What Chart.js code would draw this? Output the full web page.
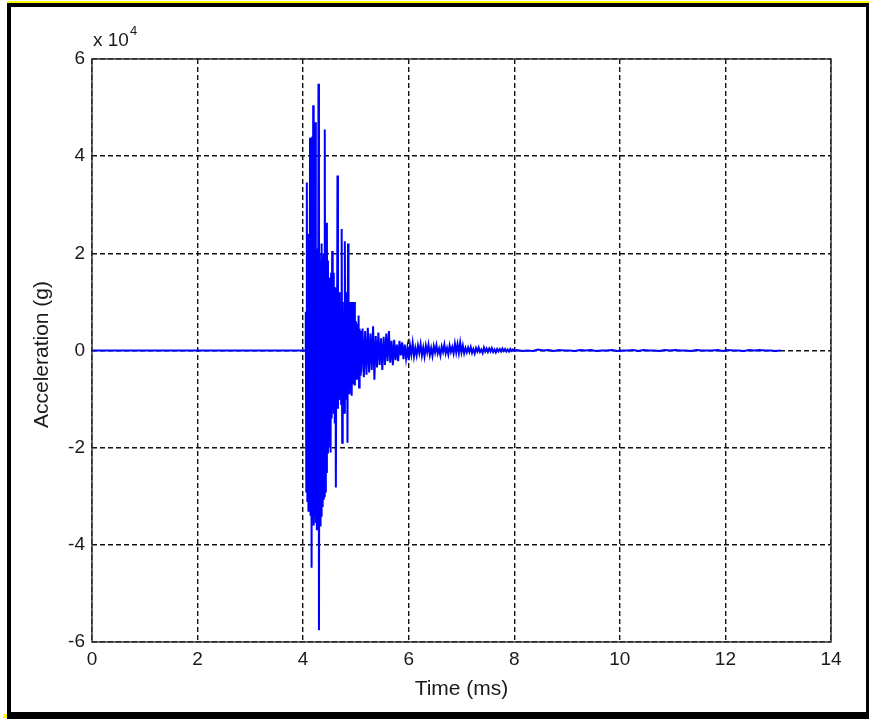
<!DOCTYPE html>
<html>
<head>
<meta charset="utf-8">
<title>Acceleration vs Time</title>
<script src="https://cdn.jsdelivr.net/npm/chart.js@4.4.1/dist/chart.umd.min.js"></script>
<style>
    body { margin: 0; background: #fff; }
    #wrap { position: relative; width: 869px; height: 719px; overflow: hidden; }
    #accelChart { position: absolute; left: 0; top: 0; }
    .frame { position: absolute; left: 7px; top: 3px; right: 0; bottom: 0;
             border-style: solid; border-color: #000; border-width: 4px 3px 7px 4px; pointer-events: none; }
    .topline { position: absolute; left: 7px; top: 1px; right: 0; height: 2px; background: #ffff00; }
    .corner { position: absolute; left: 3px; top: 714px; width: 4px; height: 4px; background: #ffff00; }
</style>
</head>
<body>
<div id="wrap">
    <canvas id="accelChart" width="869" height="719"></canvas>
    <div class="topline"></div>
    <div class="frame"></div>
    <div class="corner"></div>
</div>
<script>
// Values, acceleration in units of 10^4 g

// Quiet part before impact
const quietTime = [0, 4.04];
const quietAccel = [0, 0];

// Impact burst, one sample every 0.01 ms from 4.05 ms
const burstStart = 4.05;
const burstStep = 0.01;
const burstAccel = [
    0.8, -2.9, 3.46, -3.1, 2.1, -3.3, 2.4, -3.0, 4.38, -3.4,
    4.2, -4.47, 4.4, -3.5, 5.05, -3.6, 4.4, -3.4, 4.7, -3.55,
    1.9, -3.7, 2.1, -3.5, 5.49, -5.76, 2.0, -3.6, 1.85, -3.4,
    2.2, -3.2, 1.9, -3.05, 2.0, -3.0, 4.55, -2.9, 1.8, -2.5,
    2.63, -2.1, 1.85, -2.0, 1.5, -0.93, 1.1, -2.1, 1.6, -1.4,
    2.05, -1.2, 1.6, -1.3, 1.2, -1.5, 1.3, -2.82, 1.2, -1.1,
    3.6, -1.2, 1.0, -0.9, 1.2, -1.0, 0.9, -1.1, 2.5, -1.9,
    1.0, -0.9, 0.8, -1.28, 2.25, -0.8, 1.2, -1.0, 0.9, -1.9,
    2.2, -0.8, 0.7, -0.9, 1.0, -0.7, 0.8, -0.93, 1.0, -0.6,
    0.7, -0.7, 1.0, -0.72, 0.6, -0.5, 0.55, -0.6, 0.5, -0.45,
    0.72, -0.76, 0.45, -0.5, 0.4, -0.45
];

// Decay, one sample every 0.025 ms from 5.125 ms
const decayStart = 5.125;
const decayStep = 0.025;
const decayAccel = [
    0.45, -0.55, 0.4, -0.5, 0.47, -0.45, 0.35, -0.4,
    0.5, -0.6, 0.3, -0.35, 0.37, -0.3, 0.25, -0.4,
    0.28, -0.3, 0.35, -0.22, 0.4, -0.25, 0.2, -0.3,
    0.22, -0.2, 0.12, -0.22, 0.2, -0.1, 0.17, -0.18,
    0.12, -0.16, 0.06, -0.2, 0.1, -0.08, 0.15, -0.12,
    0.05, -0.1, 0.1, -0.05, 0.13, -0.1, 0.06, -0.12,
    0.1, -0.04, 0.12, -0.09, 0.05, -0.11, 0.09, -0.04,
    0.11, -0.06, 0.04, -0.1, 0.08, -0.03, 0.12, -0.06,
    0.05, -0.08, 0.1, -0.03, 0.07, -0.06, 0.14, -0.04,
    0.13, -0.05, 0.16, -0.04, 0.1, -0.06, 0.05, -0.04,
    0.06, -0.03, 0.07, -0.05, 0.03, -0.06, 0.05, -0.02,
    0.06, -0.03, 0.02, -0.05, 0.06, -0.02, 0.04, -0.03,
    0.04, -0.02, 0.05, -0.03, 0.02, -0.04, 0.03, -0.02,
    0.03, -0.02, 0.04, -0.01, 0.03, -0.02, 0.02, -0.02,
    0.03, -0.01, 0.02, -0.01
];

// Residual tail, one sample every 0.1 ms from 8.05 ms
const tailStart = 8.05;
const tailStep = 0.1;
const tailAccel = [
    0.01, -0.01, 0.0, -0.01, 0.02, 0.0, 0.01, -0.01, 0.01, 0.0,
    0.0, -0.01, 0.01, 0.0, 0.01, -0.01, 0.0, 0.0, 0.01, -0.01,
    0.0, 0.0, 0.01, -0.01, 0.01, 0.0, 0.0, -0.01, 0.01, 0.0,
    0.01, 0.0, 0.0, -0.01, 0.01, 0.0, 0.0, 0.0, 0.01, -0.01,
    0.01, 0.0, 0.0, -0.01, 0.01, 0.0, 0.01, 0.0, 0.0, -0.01, 0.0
];

const xTicks = [0, 2, 4, 6, 8, 10, 12, 14];
const yTicks = [-6, -4, -2, 0, 2, 4, 6];

const FONT = "'Liberation Sans', Arial, Helvetica, sans-serif";
const TEXT_COLOR = '#1a1a1a';

function toPoints(start, step, values) {
    return values.map((v, i) => ({ x: +(start + i * step).toFixed(4), y: v }));
}

const points = [
    ...quietTime.map((t, i) => ({ x: t, y: quietAccel[i] })),
    ...toPoints(burstStart, burstStep, burstAccel),
    ...toPoints(decayStart, decayStep, decayAccel),
    ...toPoints(tailStart, tailStep, tailAccel)
];

// Box around the axes plus the axis titles, matlab style
const boxAndTitles = {
    id: 'boxAndTitles',
    afterDraw(chart) {
        const { ctx, chartArea: a } = chart;
        ctx.save();
        ctx.strokeStyle = '#333';
        ctx.lineWidth = 1.5;
        ctx.setLineDash([]);
        ctx.strokeRect(a.left, a.top, a.right - a.left, a.bottom - a.top);

        ctx.fillStyle = TEXT_COLOR;
        ctx.font = `21px ${FONT}`;
        ctx.textAlign = 'center';
        ctx.textBaseline = 'middle';
        ctx.fillText('Time (ms)', (a.left + a.right) / 2, 689);

        ctx.save();
        ctx.translate(42, (a.top + a.bottom) / 2 + 4);
        ctx.rotate(-Math.PI / 2);
        ctx.fillText('Acceleration (g)', 0, 0);
        ctx.restore();

        ctx.font = `19px ${FONT}`;
        ctx.textAlign = 'left';
        ctx.fillText('x 10', a.left + 1, 41);
        const w = ctx.measureText('x 10').width;
        ctx.font = `13px ${FONT}`;
        ctx.fillText('4', a.left + 2 + w, 31);
        ctx.restore();
    }
};

new Chart(document.getElementById('accelChart'), {
    type: 'line',
    data: {
        datasets: [{
            data: points,
            borderColor: '#0000ff',
            borderWidth: 2,
            pointRadius: 0,
            tension: 0,
            fill: false
        }]
    },
    options: {
        responsive: false,
        animation: false,
        layout: { padding: { top: 59, right: 38, left: 0, bottom: 0 } },
        plugins: { legend: { display: false }, tooltip: { enabled: false } },
        scales: {
            x: {
                type: 'linear',
                min: 0,
                max: 14,
                afterFit: (scale) => { scale.height = 77; },
                afterBuildTicks: (scale) => { scale.ticks = xTicks.map(v => ({ value: v })); },
                ticks: { color: TEXT_COLOR, font: { family: FONT, size: 19 }, padding: 6, maxRotation: 0 },
                grid: { color: '#111', lineWidth: 1.4, drawTicks: false },
                border: { display: false, dash: [5, 3] }
            },
            y: {
                min: -6,
                max: 6,
                afterFit: (scale) => { scale.width = 92; },
                afterBuildTicks: (scale) => { scale.ticks = yTicks.map(v => ({ value: v })); },
                ticks: { color: TEXT_COLOR, font: { family: FONT, size: 19 }, padding: 7 },
                grid: { color: '#111', lineWidth: 1.4, drawTicks: false },
                border: { display: false, dash: [5, 3] }
            }
        }
    },
    plugins: [boxAndTitles]
});
</script>
</body>
</html>
